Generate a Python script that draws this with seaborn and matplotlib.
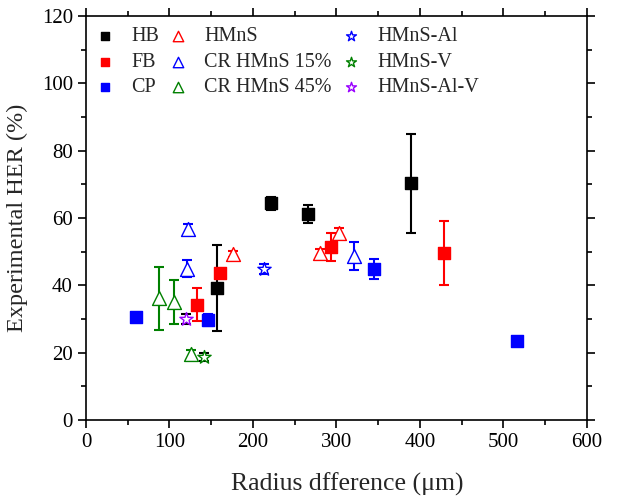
import numpy as np
import pandas as pd
import matplotlib
matplotlib.use('Agg')
import matplotlib.pyplot as plt
import seaborn as sns
from matplotlib.ticker import MultipleLocator

# data (x = radius difference, y = HER, e = error)
hb_x = [157, 222, 266, 389]
hb_y = [39.2, 64.4, 61.1, 70.3]
hb_e = [12.8, 2.0, 2.7, 14.8]

fb_x = [133, 160, 294, 429]
fb_y = [34.2, 43.6, 51.3, 49.5]
fb_e = [4.9, 1.0, 4.2, 9.5]

cp_x = [60, 146, 345, 516]
cp_y = [30.6, 29.7, 44.8, 23.6]
cp_e = [0.8, 1.8, 3.0, 1.2]

hmns_x = [176, 280, 303]
hmns_y = [49.3, 49.5, 55.6]
hmns_e = [1.0, 1.2, 1.5]

cr15_x = [121, 122, 321]
cr15_y = [45.0, 56.7, 48.8]
cr15_e = [2.5, 1.5, 4.2]

cr45_x = [87, 106, 126]
cr45_y = [36.1, 35.1, 19.5]
cr45_e = [9.5, 6.5, 1.3]

al_x = [213]
al_y = [44.8]
al_e = [1.5]

v_x = [141]
v_y = [18.6]
v_e = [1.2]

alv_x = [120]
alv_y = [29.9]
alv_e = [1.5]

series = [
    ('HB', hb_x, hb_y, hb_e, 's', 'black', True, 'black'),
    ('FB', fb_x, fb_y, fb_e, 's', 'red', True, 'red'),
    ('CP', cp_x, cp_y, cp_e, 's', 'blue', True, 'blue'),
    ('HMnS', hmns_x, hmns_y, hmns_e, '^', 'red', False, 'red'),
    ('CR HMnS 15%', cr15_x, cr15_y, cr15_e, '^', 'blue', False, 'blue'),
    ('CR HMnS 45%', cr45_x, cr45_y, cr45_e, '^', 'green', False, 'green'),
    ('HMnS-Al', al_x, al_y, al_e, '*', 'blue', False, 'blue'),
    ('HMnS-V', v_x, v_y, v_e, '*', 'green', False, 'black'),
    ('HMnS-Al-V', alv_x, alv_y, alv_e, '*', '#9900ff', False, 'black'),
]

sns.set_style('ticks')
plt.rcParams['font.family'] = ['Liberation Serif', 'DejaVu Serif']

fig = plt.figure(figsize=(6.25, 5.03), dpi=100)
ax = fig.add_axes([0.1376, 0.165, 0.8014, 0.803])

for name, xs, ys, es, mk, col, filled, ecol in series:
    ax.errorbar(xs, ys, yerr=es, fmt='none', ecolor=ecol, elinewidth=1.5,
                capsize=3.5, capthick=1.5, zorder=2)
    df = pd.DataFrame({'x': xs, 'y': ys})
    size = 70 if mk == 's' else 100
    sns.scatterplot(data=df, x='x', y='y', ax=ax, marker=mk, s=size,
                    color=col if filled else 'white',
                    edgecolor=col, linewidth=1.0, label=name, zorder=3)

ax.set_xlim(0, 600)
ax.set_ylim(0, 120)
ax.xaxis.set_major_locator(MultipleLocator(100))
ax.xaxis.set_minor_locator(MultipleLocator(50))
ax.yaxis.set_major_locator(MultipleLocator(20))
ax.yaxis.set_minor_locator(MultipleLocator(10))
ax.tick_params(which='both', direction='out', top=True, right=True,
               labelsize=15, width=1.2, colors='black')
ax.tick_params(which='major', length=6)
ax.tick_params(which='minor', length=3.5)
for sp in ax.spines.values():
    sp.set_linewidth(1.2)
    sp.set_color('black')

ax.set_xlabel('Radius dfference (μm)', fontsize=18.5, labelpad=13)
ax.xaxis.set_label_coords(0.521, -0.13)
ax.set_ylabel('Experimental HER (%)', fontsize=17.5, labelpad=10)

ax.legend(loc='upper left', ncol=3, frameon=False, fontsize=14.5,
          markerscale=0.75, handletextpad=0.9, columnspacing=0.55,
          labelspacing=0.32, borderaxespad=0.15, handlelength=0.8)

fig.savefig('out.png', dpi=100)
